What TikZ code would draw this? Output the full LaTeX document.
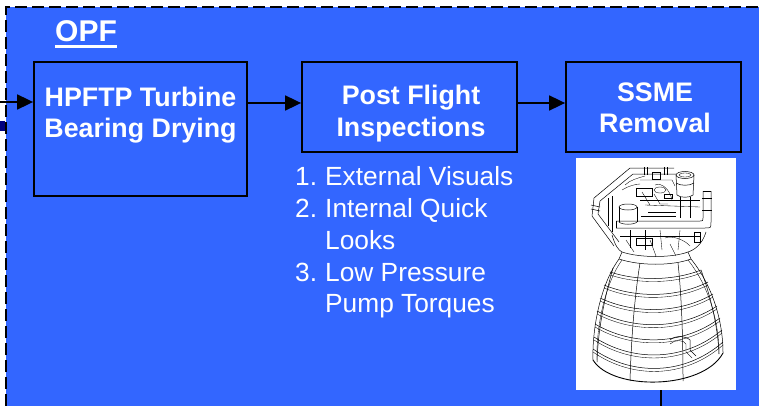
\documentclass[tikz,border=0pt]{standalone}
\usepackage{fontspec}
\setmainfont{Liberation Sans}
\usetikzlibrary{arrows.meta}
\definecolor{bg}{HTML}{3366FF}
\definecolor{navy}{HTML}{000080}
\begin{document}
\begin{tikzpicture}[x=1pt,y=-1pt,
  box/.style={draw=black,line width=1.8pt,inner sep=0pt},
  btxt/.style={text=white,font=\fontsize{26.8}{31}\selectfont\bfseries,anchor=base,inner sep=0pt},
  ltxt/.style={text=white,font=\fontsize{26.3}{31}\selectfont,anchor=base west,inner sep=0pt},
  arr/.style={line width=1.8pt,-{Triangle[length=16pt,width=15pt]}},
  eng/.style={line width=0.5pt,draw=black},
  engt/.style={line width=0.35pt,draw=black},
]
\useasboundingbox (0,0) rectangle (759,406);
\fill[white] (0,0) rectangle (759,406);
\fill[bg] (6,7) rectangle (759,406);
\draw[line width=2pt,dash pattern=on 12pt off 5pt] (6,406) -- (6,7) -- (759,7);
\fill[navy] (0,121) rectangle (5,131);
\fill[white] (0,119) rectangle (5,121);

% title
\node[text=white,font=\fontsize{30}{36}\selectfont\bfseries,anchor=base west,inner sep=0pt] (opf) at (55,42) {OPF};
\draw[white,line width=3pt] ([yshift=-5pt]opf.base west) -- ([yshift=-5pt]opf.base east);

% boxes
\node[box,minimum width=213pt,minimum height=134pt] (b1) at (140.5,129) {};
\node[box,minimum width=215pt,minimum height=90pt] (b2) at (409.5,107) {};
\node[box,minimum width=175pt,minimum height=90pt] (b3) at (653.5,107) {};

\node[btxt] (t1a) at (140.5,107) {HPFTP Turbine};
\node[btxt] (t1b) at (140.5,138) {Bearing Drying};
\node[btxt] (t2a) at (411,105) {Post Flight};
\node[btxt] (t2b) at (411,137) {Inspections};
\node[btxt] (t3a) at (655,102) {SSME};
\node[btxt] (t3b) at (655,133) {Removal};

% arrows
\coordinate (in) at (0,102);
\coordinate (r1) at (0,103);
\draw[arr] (in) -- (in -| b1.west);
\draw[arr] (r1 -| b1.east) -- (r1 -| b2.west);
\draw[arr] (r1 -| b2.east) -- (r1 -| b3.west);

% list
\node[ltxt] (n1) at (295,185) {1.};
\node[ltxt] (l1) at (325,185) {External Visuals};
\node[ltxt] (n2) at (295,217) {2.};
\node[ltxt] (l2) at (325,217) {Internal Quick};
\node[ltxt] (l2b) at (325,249) {Looks};
\node[ltxt] (n3) at (295,281) {3.};
\node[ltxt] (l3) at (325,281) {Low Pressure};
\node[ltxt] (l3b) at (325,312) {Pump Torques};

% image
\node[fill=white,minimum width=160pt,minimum height=232pt,inner sep=0pt] (img) at (656,274) {};
\coordinate (out) at (661,406);
\draw[line width=1.8pt] (img.south -| out) -- (out);

% engine line art
\begin{scope}
% nozzle sides
\draw[eng] (619,259) .. controls (600,285) and (592,330) .. (593,360);
\draw[eng] (691,259) .. controls (712,285) and (723,320) .. (723,353);
\draw[engt] (622,260) .. controls (604,285) and (596,330) .. (597,360);
\draw[engt] (688,260) .. controls (708,285) and (719,320) .. (719,354);
% bands
\foreach \l/\r/\c/\a/\b in {272/270/281/610/701, 285/282/298/604/708, 298/294/314/600/713, 311/306/330/597/717, 324/318/346/595/720, 337/330/362/594/722, 349/342/376/593/723}{
  \draw[eng] (\a,\l) .. controls ({\a+0.3*(\b-\a)},\c) and ({\b-0.3*(\b-\a)},\c) .. (\b,\r);
  \draw[engt] (\a,\l+3) .. controls ({\a+0.3*(\b-\a)},\c+3) and ({\b-0.3*(\b-\a)},\c+3) .. (\b,\r+3);
}
\draw[line width=0.9pt] (593,360) .. controls (612,391) and (703,390) .. (723,353);
% meridians
\draw[eng] (613,268) .. controls (604,300) and (598,330) .. (597,362);
\draw[eng] (640,263) .. controls (634,300) and (631,345) .. (630,381);
\draw[eng] (678,263) .. controls (682,300) and (683,345) .. (683,381);
\draw[eng] (701,270) .. controls (712,300) and (718,330) .. (719,354);
% small pipe on nozzle
\draw[eng] (670,340) .. controls (675,335) and (686,336) .. (690,340) -- (690,350) -- (696,356);
\draw[engt] (670,344) .. controls (675,339) and (684,340) .. (686,344) -- (686,352) -- (692,358);
% throat
\draw[eng] (619,259) .. controls (640,266) and (672,266) .. (691,259);
\draw[eng] (622,252) .. controls (640,258) and (672,258) .. (688,252);
\draw[eng] (622,252) -- (619,259);
\draw[eng] (688,252) -- (691,259);
% powerhead sides
\draw[eng] (612,235) .. controls (615,245) and (618,250) .. (622,252);
\draw[eng] (706,232) .. controls (702,245) and (694,250) .. (688,252);
% manifold pipe
\draw[eng] (616,221) -- (700,221) .. controls (703,221) .. (703,218) -- (703,191);
\draw[eng] (616,228) -- (705,228) .. controls (711,228) .. (711,222) -- (711,191);
\draw[eng] (703,191) -- (711,191);
\draw[eng] (702,198) -- (712,198);
\draw[eng] (702,210) -- (712,210);
\draw[eng] (616,221) -- (616,228);
% big cylinder
\draw[eng] (685,175) ellipse [x radius=9, y radius=3.5];
\draw[engt] (685,175) ellipse [x radius=6, y radius=2];
\draw[eng] (676,175) -- (677,195);
\draw[eng] (694,175) -- (693,195);
\draw[eng] (676,183) .. controls (680,186) and (690,186) .. (694,183);
\draw[eng] (677,195) .. controls (680,198) and (690,198) .. (693,195);
\draw[eng] (680,197) -- (680,218);
\draw[eng] (690,197) -- (690,218);
% left cylinder
\draw[eng] (628,207) ellipse [x radius=9, y radius=3];
\draw[eng] (619,207) -- (619,222);
\draw[eng] (637,207) -- (637,222);
\draw[eng] (619,222) .. controls (622,225) and (634,225) .. (637,222);
% outer loop pipe
\draw[eng] (614,246) -- (592,216) -- (594,198) -- (630,168) -- (674,168);
\draw[eng] (619,242) -- (598,214) -- (600,201) -- (633,174) -- (676,174);
\draw[eng] (644,167) -- (644,175);
\draw[eng] (647,167) -- (647,175);
\draw[eng] (664,167) -- (664,175);
\draw[eng] (667,167) -- (667,175);
\draw[eng] (591,205) -- (600,207);
\draw[eng] (591,209) -- (600,211);
% clutter
\draw[engt] (640,180) -- (672,180) -- (675,186);
\draw[engt] (636,188) rectangle (652,196);
\draw[engt] (655,185) .. controls (662,182) and (670,190) .. (672,200);
\draw[engt] (640,200) -- (700,200);
\draw[engt] (645,205) -- (700,207);
\draw[engt] (648,212) -- (676,212);
\draw[engt] (641,216) -- (676,216);
\draw[engt] (660,190) ellipse [x radius=6, y radius=3];
\draw[engt] (625,185) .. controls (630,180) and (638,178) .. (645,176);
\draw[engt] (622,190) .. controls (628,186) and (636,184) .. (640,184);
\draw[engt] (612,196) -- (612,232);
\draw[engt] (608,198) -- (608,226);
\draw[engt] (630,230) -- (630,248);
\draw[engt] (645,230) -- (645,250);
\draw[engt] (660,230) -- (662,250);
\draw[engt] (680,230) -- (678,250);
\draw[engt] (636,238) rectangle (652,245);
\draw[engt] (665,238) .. controls (672,235) and (685,240) .. (690,246);
\draw[engt] (620,236) -- (700,236);
\draw[engt] (694,232) rectangle (700,242);
\draw[engt] (652,172) rectangle (660,179);
\draw[engt] (664,194) rectangle (672,198);
\draw[engt] (642,192) -- (650,205);
\draw[engt] (654,194) -- (660,204) -- (668,204);
\draw[engt] (626,240) -- (634,252);
\draw[engt] (650,240) -- (656,256);
\draw[engt] (670,244) -- (676,256);
\end{scope}
\end{tikzpicture}
\end{document}
